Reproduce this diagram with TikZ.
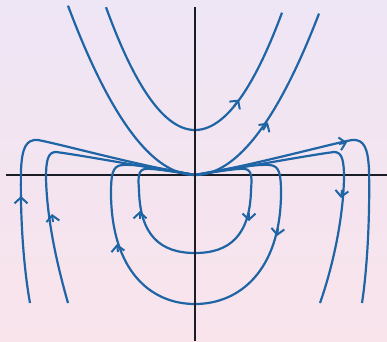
\documentclass[tikz,border=0pt]{standalone}
\usetikzlibrary{arrows.meta}
\definecolor{bgtop}{HTML}{EEE5F5}
\definecolor{bgbot}{HTML}{F9E4EB}
\definecolor{flow}{HTML}{1F65A5}
\definecolor{axis}{HTML}{1B1D26}
\begin{document}
\begin{tikzpicture}[x=1pt,y=-1pt,
  traj/.style={draw=flow,line width=2.2pt},
  axisline/.style={draw=axis,line width=2pt},
  tipmark/.style={draw=flow,line width=2pt,-{Straight Barb[length=6pt,width=13pt,line width=2pt]}}]
\shade[top color=bgtop,bottom color=bgbot] (0,0) rectangle (387,341);
\useasboundingbox (0,0) rectangle (387,341);
\coordinate (O) at (195,175);
% horizontal axis
\draw[axisline] (6,175) -- (387,175);
% parabolas
\draw[traj] plot[domain=-89:87,samples=80] ({195+\x},{130-0.0155*\x*\x});
\draw[traj] plot[domain=-127:124,samples=100] ({195+\x},{175-0.0105*\x*\x});
% left open trajectories
\draw[traj] (O) .. controls (140,166) and (60,144) .. (38,140) .. controls (26,139) and (22,148) .. (21,170) .. controls (20,220) and (24,270) .. (30,303);
\draw[traj] (O) .. controls (150,168) and (80,155) .. (56,152) .. controls (48,152) and (46,160) .. (46,178) .. controls (47,225) and (60,275) .. (68,303);
% right open trajectories
\draw[traj] (O) .. controls (250,166) and (330,144) .. (352,140) .. controls (364,139) and (368,148) .. (369,170) .. controls (370,220) and (367,270) .. (362,303);
\draw[traj] (O) .. controls (240,168) and (310,155) .. (334,152) .. controls (342,152) and (344,160) .. (344,178) .. controls (343,225) and (330,275) .. (320,303);
% closed loops
\draw[traj] (O) .. controls (170,171) and (150,168) .. (145,169) .. controls (138,170) and (138,178) .. (139,190)
  .. controls (140,235) and (160,253) .. (195,253) .. controls (230,253) and (250,235) .. (251,190)
  .. controls (252,178) and (252,170) .. (245,169) .. controls (240,168) and (220,171) .. (O);
\draw[traj] (O) .. controls (160,168) and (135,164) .. (122,165) .. controls (112,166) and (111,175) .. (111,195)
  .. controls (112,270) and (150,304) .. (195,304) .. controls (240,304) and (280,270) .. (281,195)
  .. controls (281,175) and (280,166) .. (270,165) .. controls (257,164) and (230,168) .. (O);
% direction marks
\draw[tipmark] (234,106.3) -- (239,99.6);
\draw[tipmark] (263,130) -- (268,122.5);
\draw[tipmark] (21,204) -- (21,196);
\draw[tipmark] (53,222) -- (52,214);
\draw[tipmark] (339,144) -- (347,142.4);
\draw[tipmark] (342,190) -- (341,198);
\draw[tipmark] (140,219) -- (140,211);
\draw[tipmark] (249,213) -- (249,221);
\draw[tipmark] (118,252) -- (117,244);
\draw[tipmark] (278,228) -- (277,236);
% vertical axis
\draw[axisline] (195,7) -- (195,341);
\end{tikzpicture}
\end{document}
